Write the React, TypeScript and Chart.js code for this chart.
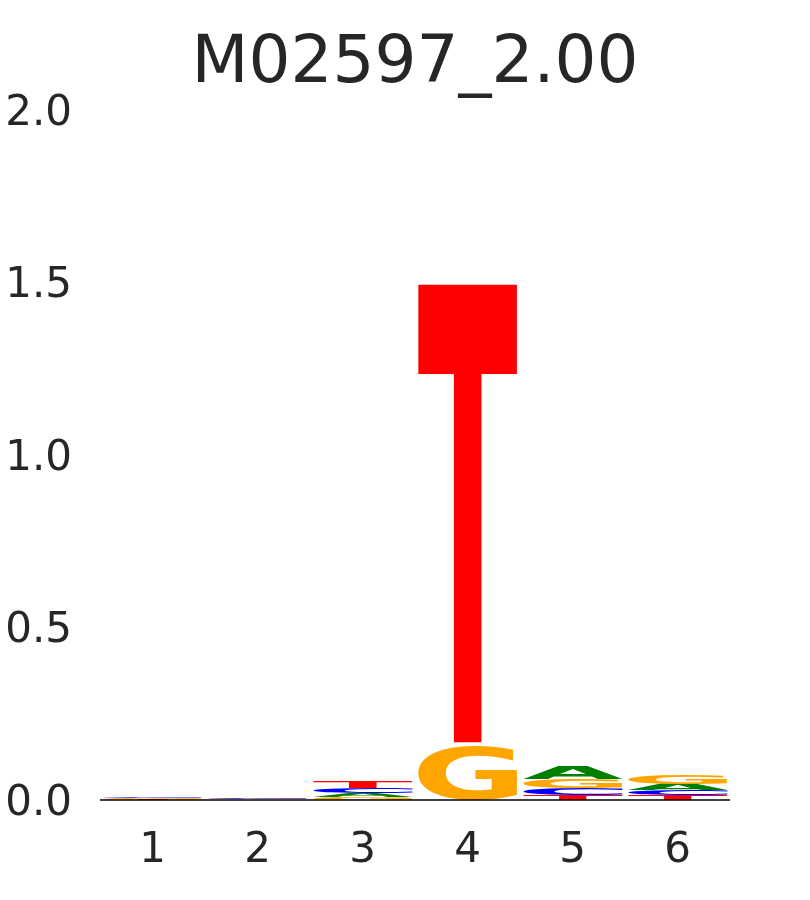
import React, { useEffect, useRef } from "react";
import { Chart, registerables } from "chart.js";

Chart.register(...registerables);

const TITLE = "M02597_2.00";
const positions = ["1", "2", "3", "4", "5", "6"];
const letters = ["A", "C", "G", "T"];
const letterColors: Record<string, string> = {
  A: "#008000",
  C: "#0000ff",
  G: "#ffa500",
  T: "#ff0000",
};
// information content (bits) per letter at each position
const valuesA = [0.001, 0.0012, 0.012, 0.0005, 0.038, 0.018];
const valuesC = [0.003, 0.003, 0.015, 0.0006, 0.02, 0.016];
const valuesG = [0.002, 0.002, 0.009, 0.157, 0.029, 0.029];
const valuesT = [0.0015, 0.001, 0.02, 1.337, 0.013, 0.013];
const yTicks = [0, 0.5, 1.0, 1.5, 2.0];

const TEXT = "#262626";
const FONT = "'DejaVu Sans', sans-serif";

function buildStacks() {
  const series = [valuesA, valuesC, valuesG, valuesT];
  const rankVals: number[][] = [[], [], [], []];
  const rankLetters: string[][] = [[], [], [], []];
  positions.forEach((_, i) => {
    const items = letters
      .map((l, k) => ({ l, v: series[k][i] }))
      .sort((a, b) => a.v - b.v);
    items.forEach((it, r) => {
      rankVals[r].push(it.v);
      rankLetters[r].push(it.l);
    });
  });
  return { rankVals, rankLetters };
}

function drawGlyph(
  ctx: CanvasRenderingContext2D,
  ch: string,
  color: string,
  left: number,
  top: number,
  w: number,
  h: number
) {
  if (h <= 0.02 || w <= 0) return;
  ctx.save();
  ctx.font = `bold 200px ${FONT}`;
  ctx.textAlign = "left";
  ctx.textBaseline = "alphabetic";
  const m = ctx.measureText(ch);
  const gl = m.actualBoundingBoxLeft;
  const gr = m.actualBoundingBoxRight;
  const ga = m.actualBoundingBoxAscent;
  const gd = m.actualBoundingBoxDescent;
  const gw = gl + gr;
  const gh = ga + gd;
  ctx.translate(left, top);
  ctx.scale(w / gw, h / gh);
  ctx.fillStyle = color;
  ctx.fillText(ch, gl, ga);
  ctx.restore();
}

export default function App() {
  const ref = useRef<HTMLCanvasElement | null>(null);

  useEffect(() => {
    document.body.style.margin = "0";
    if (!ref.current) return;
    const { rankVals, rankLetters } = buildStacks();

    const logoPlugin = {
      id: "logo",
      afterDatasetsDraw(chart: any) {
        const ctx: CanvasRenderingContext2D = chart.ctx;
        chart.data.datasets.forEach((ds: any, di: number) => {
          const meta = chart.getDatasetMeta(di);
          meta.data.forEach((el: any, i: number) => {
            const p = el.getProps(["x", "y", "base", "width"], true);
            const top = Math.min(p.y, p.base);
            const h = Math.abs(p.base - p.y);
            const ch = ds.letters[i];
            drawGlyph(ctx, ch, letterColors[ch], p.x - p.width / 2, top, p.width, h);
          });
        });
        const ya = chart.scales.y;
        const y0 = ya.getPixelForValue(0);
        const ca = chart.chartArea;
        ctx.save();
        ctx.strokeStyle = "#000000";
        ctx.lineWidth = 1.5;
        ctx.beginPath();
        ctx.moveTo(ca.left, y0);
        ctx.lineTo(ca.right, y0);
        ctx.stroke();
        // title centred over the plot area
        ctx.fillStyle = TEXT;
        ctx.font = `66px ${FONT}`;
        ctx.textAlign = "center";
        ctx.textBaseline = "middle";
        ctx.fillText(TITLE, (ca.left + ca.right) / 2, 65);
        ctx.restore();
      },
    };

    const chart = new Chart(ref.current, {
      type: "bar",
      data: {
        labels: positions,
        datasets: rankVals.map((vals, r) => ({
          label: `rank${r}`,
          data: vals,
          letters: rankLetters[r],
          backgroundColor: "rgba(0,0,0,0)",
          borderWidth: 0,
          categoryPercentage: 0.95,
          barPercentage: 1.0,
        })) as any,
      },
      options: {
        responsive: false,
        animation: false,
        layout: { padding: { left: 0, right: 80, top: 110, bottom: 0 } },
        plugins: {
          legend: { display: false },
          tooltip: { enabled: false },
          title: { display: false },
        },
        scales: {
          x: {
            stacked: true,
            grid: { display: false, drawTicks: false },
            border: { display: false },
            ticks: {
              color: TEXT,
              font: { family: FONT, size: 42 },
              padding: 26,
            },
            afterFit: (scale: any) => {
              scale.height = 100;
            },
          },
          y: {
            stacked: true,
            min: 0,
            max: 2,
            afterBuildTicks: (scale: any) => {
              scale.ticks = yTicks.map((v) => ({ value: v }));
            },
            grid: { display: false, drawTicks: false },
            border: { display: false },
            ticks: {
              color: TEXT,
              font: { family: FONT, size: 42 },
              padding: 28,
              labelOffset: 4,
              callback: (v: any) => Number(v).toFixed(1),
            },
            afterFit: (scale: any) => {
              scale.width = 100;
            },
          },
        },
      },
      plugins: [logoPlugin],
    });
    return () => chart.destroy();
  }, []);

  return <canvas ref={ref} width={810} height={900} />;
}
